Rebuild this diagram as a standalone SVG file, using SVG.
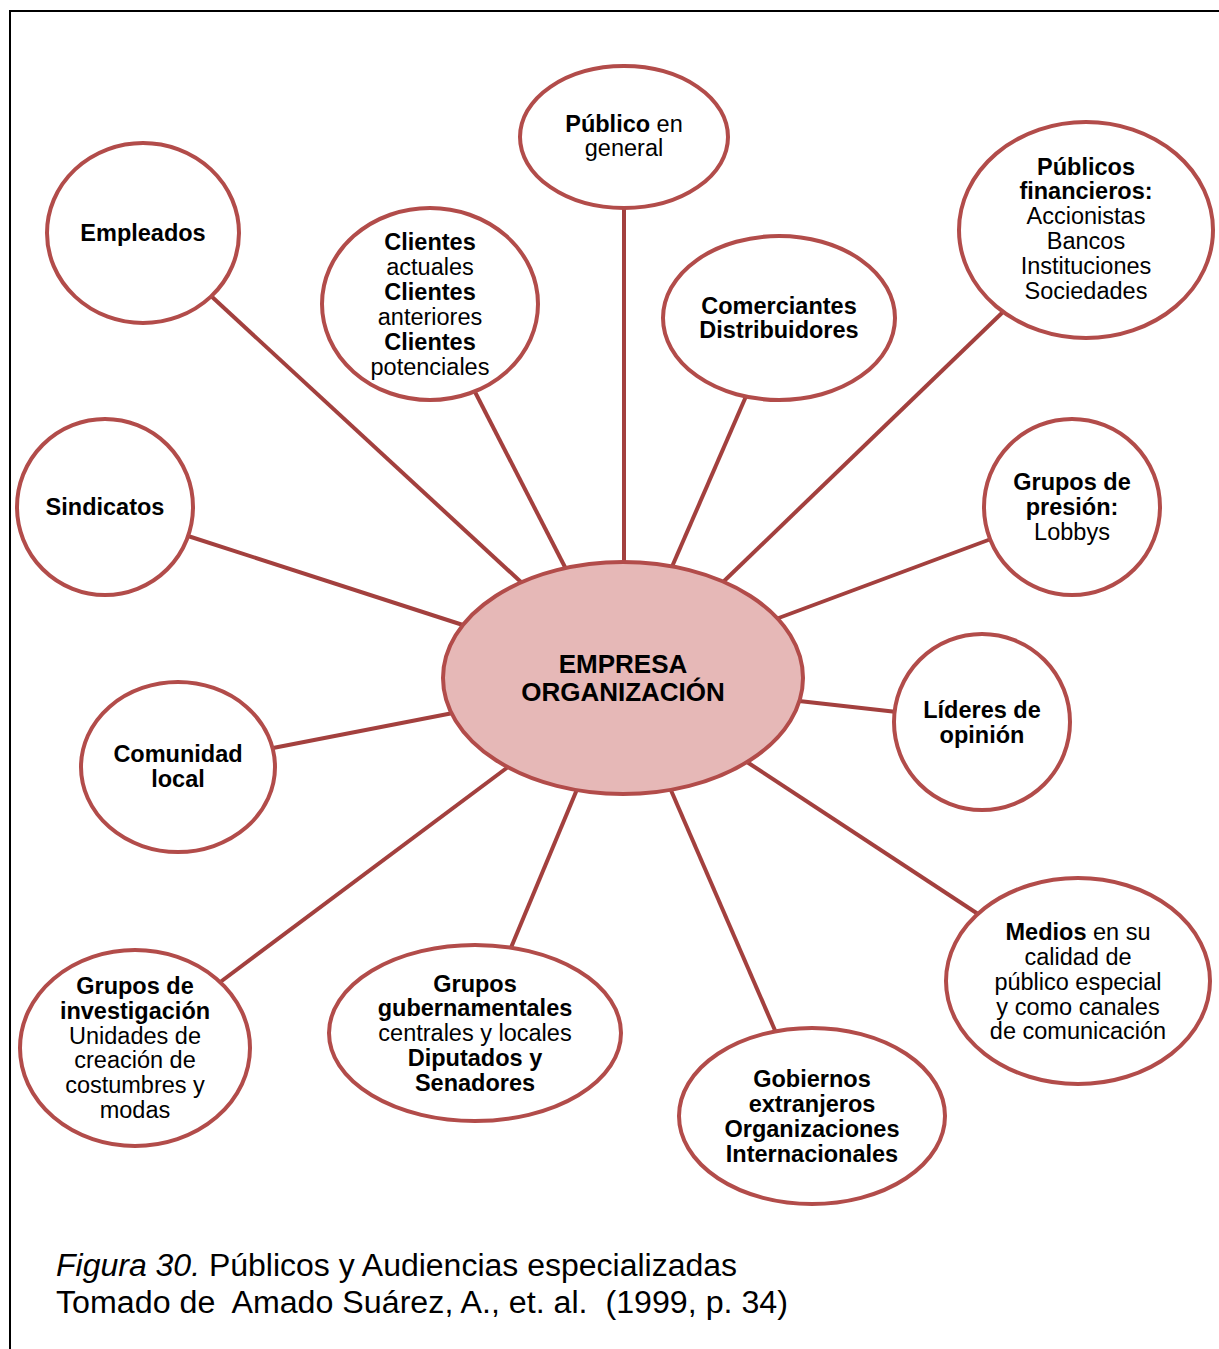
<svg xmlns="http://www.w3.org/2000/svg" width="1219" height="1349" viewBox="0 0 1219 1349">
  <style>
    .frame { fill: none; stroke: #000; stroke-width: 2; }
    .link { stroke: #a3403e; stroke-width: 4; stroke-linecap: butt; }
    .node { fill: #fff; stroke: #b24c4a; stroke-width: 4; }
    .hub { fill: #e6b8b7; stroke: #b24c4a; stroke-width: 4; }
    text { font-family: "Liberation Sans", Arial, sans-serif; font-size: 23.5px; fill: #000; text-anchor: middle; }
    .b { font-weight: bold; }
    .hubtxt { font-size: 26px; font-weight: bold; }
    .cap { font-size: 31px; text-anchor: start; white-space: pre; }
  </style>

  <!-- page frame -->
  <path class="frame" d="M10,1349 V11 H1219"/>

  <!-- connectors from the hub to each audience -->
  <g id="connectors">
    <line class="link" x1="624" y1="205" x2="624" y2="565"/>
    <line class="link" x1="210" y1="295" x2="522" y2="583"/>
    <line class="link" x1="474" y1="390" x2="567" y2="571"/>
    <line class="link" x1="747" y1="394" x2="671" y2="569"/>
    <line class="link" x1="1005" y1="310" x2="721" y2="584"/>
    <line class="link" x1="188" y1="536" x2="466" y2="626"/>
    <line class="link" x1="991" y1="539" x2="776" y2="619"/>
    <line class="link" x1="799" y1="701" x2="897" y2="712"/>
    <line class="link" x1="273" y1="748" x2="453" y2="713"/>
    <line class="link" x1="978" y1="914" x2="747" y2="762"/>
    <line class="link" x1="219" y1="983" x2="508" y2="767"/>
    <line class="link" x1="510" y1="950" x2="578" y2="787"/>
    <line class="link" x1="777" y1="1035" x2="670" y2="788"/>
  </g>

  <g id="hub">
    <ellipse class="hub" cx="623" cy="678" rx="180" ry="116"/>
    <text class="hubtxt" x="623" y="673">EMPRESA</text>
    <text class="hubtxt" x="623" y="701">ORGANIZACIÓN</text>
  </g>

  <g id="publico-general">
    <ellipse class="node" cx="624" cy="137" rx="104" ry="71"/>
    <text x="624" y="132"><tspan class="b">Público</tspan> en</text>
    <text x="624" y="156">general</text>
  </g>

  <g id="empleados">
    <ellipse class="node" cx="143" cy="233" rx="96" ry="90"/>
    <text class="b" x="143" y="241">Empleados</text>
  </g>

  <g id="clientes">
    <ellipse class="node" cx="430" cy="304" rx="108" ry="96"/>
    <text class="b" x="430" y="250">Clientes</text>
    <text x="430" y="275">actuales</text>
    <text class="b" x="430" y="300">Clientes</text>
    <text x="430" y="325">anteriores</text>
    <text class="b" x="430" y="350">Clientes</text>
    <text x="430" y="375">potenciales</text>
  </g>

  <g id="comerciantes">
    <ellipse class="node" cx="779" cy="318" rx="116" ry="82"/>
    <text class="b" x="779" y="314">Comerciantes</text>
    <text class="b" x="779" y="338">Distribuidores</text>
  </g>

  <g id="publicos-financieros">
    <ellipse class="node" cx="1086" cy="230" rx="127" ry="108"/>
    <text class="b" x="1086" y="175">Públicos</text>
    <text class="b" x="1086" y="199">financieros:</text>
    <text x="1086" y="224">Accionistas</text>
    <text x="1086" y="249">Bancos</text>
    <text x="1086" y="274">Instituciones</text>
    <text x="1086" y="299">Sociedades</text>
  </g>

  <g id="sindicatos">
    <ellipse class="node" cx="105" cy="507" rx="88" ry="88"/>
    <text class="b" x="105" y="515">Sindicatos</text>
  </g>

  <g id="grupos-presion">
    <ellipse class="node" cx="1072" cy="507" rx="88" ry="88"/>
    <text class="b" x="1072" y="490">Grupos de</text>
    <text class="b" x="1072" y="515">presión:</text>
    <text x="1072" y="540">Lobbys</text>
  </g>

  <g id="lideres-opinion">
    <ellipse class="node" cx="982" cy="722" rx="88" ry="88"/>
    <text class="b" x="982" y="718">Líderes de</text>
    <text class="b" x="982" y="743">opinión</text>
  </g>

  <g id="comunidad-local">
    <ellipse class="node" cx="178" cy="767" rx="97" ry="85"/>
    <text class="b" x="178" y="762">Comunidad</text>
    <text class="b" x="178" y="787">local</text>
  </g>

  <g id="medios">
    <ellipse class="node" cx="1078" cy="981" rx="132" ry="103"/>
    <text x="1078" y="940"><tspan class="b">Medios</tspan> en su</text>
    <text x="1078" y="965">calidad de</text>
    <text x="1078" y="990">público especial</text>
    <text x="1078" y="1015">y como canales</text>
    <text x="1078" y="1039">de comunicación</text>
  </g>

  <g id="grupos-investigacion">
    <ellipse class="node" cx="135" cy="1048" rx="115" ry="98"/>
    <text class="b" x="135" y="994">Grupos de</text>
    <text class="b" x="135" y="1019">investigación</text>
    <text x="135" y="1044">Unidades de</text>
    <text x="135" y="1068">creación de</text>
    <text x="135" y="1093">costumbres y</text>
    <text x="135" y="1118">modas</text>
  </g>

  <g id="grupos-gubernamentales">
    <ellipse class="node" cx="475" cy="1033" rx="146" ry="88"/>
    <text class="b" x="475" y="992">Grupos</text>
    <text class="b" x="475" y="1016">gubernamentales</text>
    <text x="475" y="1041">centrales y locales</text>
    <text class="b" x="475" y="1066">Diputados y</text>
    <text class="b" x="475" y="1091">Senadores</text>
  </g>

  <g id="gobiernos-extranjeros">
    <ellipse class="node" cx="812" cy="1116" rx="133" ry="88"/>
    <text class="b" x="812" y="1087">Gobiernos</text>
    <text class="b" x="812" y="1112">extranjeros</text>
    <text class="b" x="812" y="1137">Organizaciones</text>
    <text class="b" x="812" y="1162">Internacionales</text>
  </g>

  <!-- caption -->
  <g id="caption">
    <text class="cap" x="56" y="1276" textLength="681" lengthAdjust="spacingAndGlyphs"><tspan font-style="italic">Figura 30.</tspan> Públicos y Audiencias especializadas</text>
    <text class="cap" x="56" y="1313" textLength="732" lengthAdjust="spacingAndGlyphs">Tomado de  Amado Suárez, A., et. al.  (1999, p. 34)</text>
  </g>
</svg>
